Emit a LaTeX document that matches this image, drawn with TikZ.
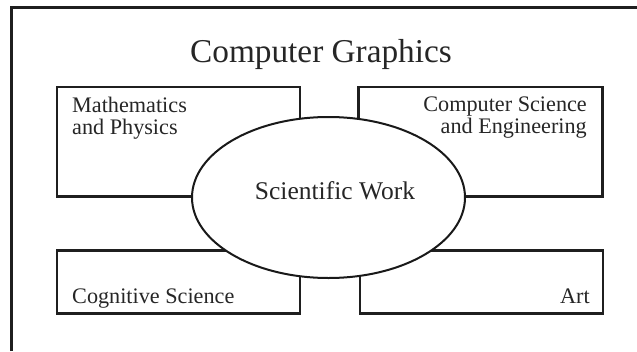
\documentclass[tikz,border=0pt]{standalone}
\usepackage{fontspec}
\setmainfont{Liberation Serif}
\usetikzlibrary{shapes.geometric}
\begin{document}
\begin{tikzpicture}[x=1pt,y=-1pt,
  areabox/.style={draw=black!88,line width=2.3pt,fill=white,rectangle,inner sep=0pt},
  work/.style={draw=black!90,line width=2pt,fill=white,ellipse,inner sep=0pt,minimum width=273pt,minimum height=161pt},
  lbl/.style={inner sep=0pt,font=\fontsize{22.2}{22}\selectfont,text=black!85},
  frame/.style={draw=black!88,line width=3pt}]
\useasboundingbox (0,0) rectangle (637,351);
\coordinate (fb) at (11.5,351);
\coordinate (fc) at (11.5,7.5);
\coordinate (fr) at (637,7.5);
\draw[frame] (fb) -- (fc) -- (fr);
\node[inner sep=0pt,anchor=base,font=\fontsize{33.3}{36}\selectfont,text=black!85] (title) at (321,62) {Computer Graphics};
\node[areabox,minimum width=243pt,minimum height=109.5pt] (mp) at (178.5,141.75) {};
\node[areabox,minimum width=244pt,minimum height=109.5pt] (cs) at (480.5,141.75) {};
\node[areabox,minimum width=243pt,minimum height=63pt] (cg) at (178.5,282) {};
\node[areabox,minimum width=243pt,minimum height=63pt] (art) at (481.5,282) {};
\node[work] (sw) at (328.5,197.5) {};
\node[inner sep=0pt,anchor=base,font=\fontsize{25.5}{28}\selectfont,text=black!85] (swt) at (335,199) {Scientific Work};
\node[lbl,anchor=base west] (mp1) at (72,112.7) {Mathematics};
\node[lbl,anchor=base west] (mp2) at (72,134) {and Physics};
\node[lbl,anchor=base east] (cs1) at (587,111.7) {Computer Science};
\node[lbl,anchor=base east] (cs2) at (587,133) {and Engineering};
\node[lbl,anchor=base west] (cgt) at (72,303) {Cognitive Science};
\node[lbl,anchor=base east] (artt) at (590,303) {Art};
\end{tikzpicture}
\end{document}
